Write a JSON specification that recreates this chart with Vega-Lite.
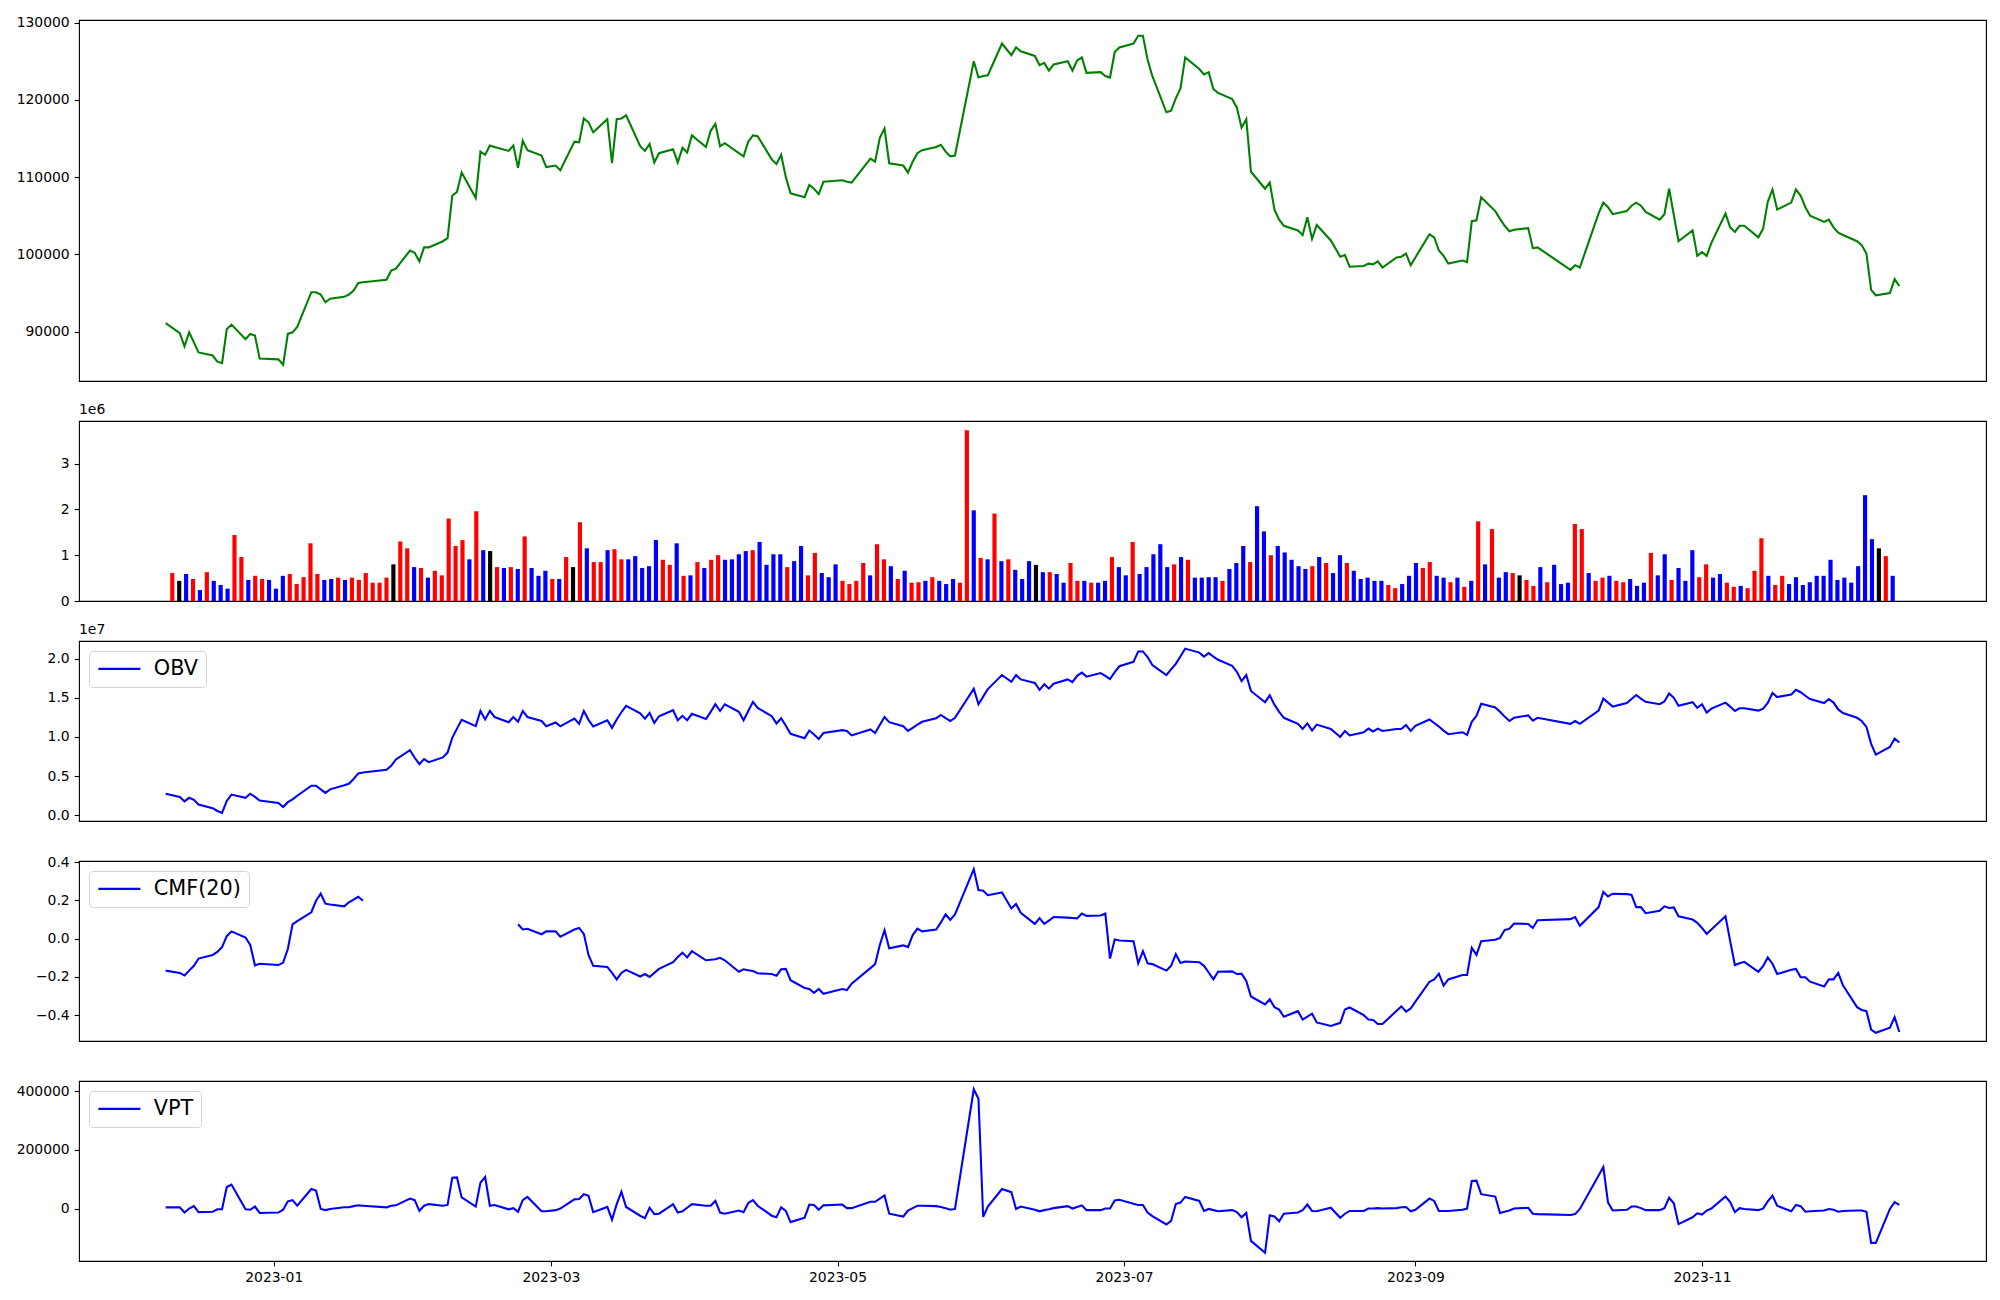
{
"$schema": "https://vega.github.io/schema/vega-lite/v6.json",
"background": "white",
"padding": {"left": 15, "top": 15, "right": 14, "bottom": 8},
"autosize": {"type": "pad"},
"spacing": 40,
"bounds": "flush",
"config": {
 "font": "DejaVu Sans",
 "view": {"stroke": "#000000", "strokeWidth": 1.1},
 "axis": {"domain": false, "grid": false, "title": null, "labelFont": "DejaVu Sans", "labelFontSize": 13.9, "labelColor": "#000000", "tickColor": "#000000", "tickSize": 4.9, "tickWidth": 1.1, "labelPadding": 4.9, "labelFlush": false, "labelOverlap": false, "labelBound": false},
 "legend": {"orient": "top-left", "offset": 10, "padding": 7.5, "cornerRadius": 4, "strokeColor": "#d4d4d4", "fillColor": "#ffffff", "symbolType": "M-3,0H3", "symbolStrokeWidth": 2.08, "symbolSize": 196, "symbolOffset": 12.5, "labelFont": "DejaVu Sans", "labelFontSize": 20.8, "labelColor": "#000000", "labelOffset": 24},
 "title": {"font": "DejaVu Sans", "fontSize": 13.9, "fontWeight": "normal", "color": "#000000", "anchor": "start", "frame": "group", "offset": 4}
},
"resolve": {"scale": {"x": "independent", "y": "independent", "color": "independent"}, "legend": {"color": "independent"}},
"data": {"values": [
{"d":"2022-12-09","c":91100,"v":610000,"k":"up","obv":2760000,"cmf":-0.167,"vpt":4000},
{"d":"2022-12-12","c":89800,"v":440000,"k":"flat","obv":2350000,"cmf":-0.179,"vpt":4000},
{"d":"2022-12-13","c":88100,"v":590000,"k":"down","obv":1790000,"cmf":-0.192,"vpt":-13600},
{"d":"2022-12-14","c":89900,"v":480000,"k":"up","obv":2240000,"cmf":-0.167,"vpt":0},
{"d":"2022-12-15","c":88600,"v":240000,"k":"down","obv":1990000,"cmf":-0.142,"vpt":8200},
{"d":"2022-12-16","c":87300,"v":630000,"k":"up","obv":1380000,"cmf":-0.104,"vpt":-12200},
{"d":"2022-12-19","c":86900,"v":440000,"k":"down","obv":920000,"cmf":-0.085,"vpt":-10900},
{"d":"2022-12-20","c":86100,"v":350000,"k":"down","obv":560000,"cmf":-0.069,"vpt":-2700},
{"d":"2022-12-21","c":85900,"v":270000,"k":"down","obv":310000,"cmf":-0.044,"vpt":-2700},
{"d":"2022-12-22","c":90300,"v":1440000,"k":"up","obv":1840000,"cmf":0.013,"vpt":73500},
{"d":"2022-12-23","c":90900,"v":960000,"k":"up","obv":2650000,"cmf":0.038,"vpt":81600},
{"d":"2022-12-26","c":89000,"v":460000,"k":"down","obv":2240000,"cmf":0.006,"vpt":-2700},
{"d":"2022-12-27","c":89700,"v":550000,"k":"up","obv":2760000,"cmf":-0.033,"vpt":-4100},
{"d":"2022-12-28","c":89500,"v":480000,"k":"up","obv":2350000,"cmf":-0.140,"vpt":6800},
{"d":"2022-12-29","c":86500,"v":460000,"k":"down","obv":1890000,"cmf":-0.131,"vpt":-15000},
{"d":"2023-01-02","c":86400,"v":270000,"k":"down","obv":1580000,"cmf":-0.138,"vpt":-13600},
{"d":"2023-01-03","c":85700,"v":550000,"k":"down","obv":1070000,"cmf":-0.125,"vpt":-4100},
{"d":"2023-01-04","c":89700,"v":590000,"k":"up","obv":1680000,"cmf":-0.054,"vpt":24500},
{"d":"2023-01-05","c":89900,"v":370000,"k":"up","obv":2040000,"cmf":0.075,"vpt":28600},
{"d":"2023-01-06","c":90600,"v":520000,"k":"up","obv":2500000,"cmf":0.092,"vpt":9500},
{"d":"2023-01-09","c":95100,"v":1260000,"k":"up","obv":3780000,"cmf":0.138,"vpt":66700},
{"d":"2023-01-10","c":95100,"v":590000,"k":"up","obv":3780000,"cmf":0.198,"vpt":61200},
{"d":"2023-01-11","c":94800,"v":460000,"k":"down","obv":3320000,"cmf":0.235,"vpt":-1400},
{"d":"2023-01-12","c":93800,"v":480000,"k":"down","obv":2860000,"cmf":0.183,"vpt":-5400},
{"d":"2023-01-13","c":94250,"v":510000,"k":"up","obv":3320000,"cmf":0.179,"vpt":-1400},
{"d":"2023-01-16","c":94500,"v":460000,"k":"down","obv":3830000,"cmf":0.169,"vpt":4100},
{"d":"2023-01-17","c":94800,"v":510000,"k":"up","obv":4030000,"cmf":0.190,"vpt":4100},
{"d":"2023-01-18","c":95300,"v":460000,"k":"up","obv":4640000,"cmf":0.204,"vpt":8200},
{"d":"2023-01-19","c":96300,"v":610000,"k":"up","obv":5360000,"cmf":0.219,"vpt":10900},
{"d":"2023-01-20","c":96400,"v":400000,"k":"up","obv":5460000,"cmf":0.198,"vpt":9500},
{"d":"2023-01-25","c":96700,"v":400000,"k":"up","obv":5820000,"cmf":null,"vpt":4100},
{"d":"2023-01-26","c":97900,"v":510000,"k":"up","obv":6330000,"cmf":null,"vpt":9500},
{"d":"2023-01-27","c":98150,"v":800000,"k":"flat","obv":7140000,"cmf":null,"vpt":10900},
{"d":"2023-01-30","c":100500,"v":1300000,"k":"up","obv":8320000,"cmf":null,"vpt":34000},
{"d":"2023-01-31","c":100200,"v":1150000,"k":"up","obv":7350000,"cmf":null,"vpt":28600},
{"d":"2023-02-01","c":99100,"v":740000,"k":"down","obv":6530000,"cmf":null,"vpt":-8200},
{"d":"2023-02-02","c":100900,"v":720000,"k":"up","obv":7190000,"cmf":null,"vpt":9500},
{"d":"2023-02-03","c":100900,"v":510000,"k":"down","obv":6790000,"cmf":null,"vpt":15000},
{"d":"2023-02-06","c":101700,"v":660000,"k":"up","obv":7400000,"cmf":null,"vpt":9500},
{"d":"2023-02-07","c":102100,"v":560000,"k":"up","obv":8010000,"cmf":null,"vpt":12200},
{"d":"2023-02-08","c":107600,"v":1800000,"k":"up","obv":9900000,"cmf":null,"vpt":104800},
{"d":"2023-02-09","c":108100,"v":1200000,"k":"up","obv":11070000,"cmf":null,"vpt":106100},
{"d":"2023-02-10","c":110600,"v":1330000,"k":"up","obv":12190000,"cmf":null,"vpt":38100},
{"d":"2023-02-13","c":107300,"v":910000,"k":"down","obv":11380000,"cmf":null,"vpt":6800},
{"d":"2023-02-14","c":113300,"v":1960000,"k":"up","obv":13320000,"cmf":null,"vpt":88400},
{"d":"2023-02-15","c":112900,"v":1110000,"k":"down","obv":12240000,"cmf":null,"vpt":107500},
{"d":"2023-02-16","c":114100,"v":1090000,"k":"flat","obv":13320000,"cmf":null,"vpt":9500},
{"d":"2023-02-17","c":113900,"v":740000,"k":"up","obv":12550000,"cmf":null,"vpt":12200},
{"d":"2023-02-20","c":113400,"v":720000,"k":"down","obv":11890000,"cmf":null,"vpt":-2700},
{"d":"2023-02-21","c":114100,"v":740000,"k":"up","obv":12550000,"cmf":null,"vpt":1400},
{"d":"2023-02-22","c":111200,"v":700000,"k":"down","obv":11940000,"cmf":0.075,"vpt":-10900},
{"d":"2023-02-23","c":114700,"v":1410000,"k":"up","obv":13320000,"cmf":0.048,"vpt":28600},
{"d":"2023-02-24","c":113500,"v":720000,"k":"down","obv":12550000,"cmf":0.052,"vpt":39500},
{"d":"2023-02-27","c":112800,"v":550000,"k":"down","obv":12040000,"cmf":0.023,"vpt":-9500},
{"d":"2023-02-28","c":111300,"v":660000,"k":"down","obv":11380000,"cmf":0.038,"vpt":-9500},
{"d":"2023-03-02","c":111500,"v":480000,"k":"up","obv":11860000,"cmf":0.038,"vpt":-5500},
{"d":"2023-03-03","c":110900,"v":480000,"k":"down","obv":11360000,"cmf":0.010,"vpt":0},
{"d":"2023-03-06","c":114600,"v":960000,"k":"up","obv":12350000,"cmf":0.048,"vpt":31300},
{"d":"2023-03-07","c":114500,"v":740000,"k":"flat","obv":11680000,"cmf":0.056,"vpt":32700},
{"d":"2023-03-08","c":117600,"v":1720000,"k":"up","obv":13320000,"cmf":0.025,"vpt":49000},
{"d":"2023-03-09","c":117100,"v":1150000,"k":"down","obv":12190000,"cmf":-0.085,"vpt":43500},
{"d":"2023-03-10","c":115800,"v":850000,"k":"up","obv":11330000,"cmf":-0.142,"vpt":-12200},
{"d":"2023-03-13","c":117500,"v":850000,"k":"up","obv":12140000,"cmf":-0.148,"vpt":5400},
{"d":"2023-03-14","c":111800,"v":1110000,"k":"down","obv":11170000,"cmf":-0.179,"vpt":-38100},
{"d":"2023-03-15","c":117500,"v":1130000,"k":"up","obv":12240000,"cmf":-0.213,"vpt":15000},
{"d":"2023-03-16","c":117600,"v":910000,"k":"up","obv":13160000,"cmf":-0.179,"vpt":57100},
{"d":"2023-03-17","c":118000,"v":910000,"k":"down","obv":13980000,"cmf":-0.163,"vpt":5400},
{"d":"2023-03-20","c":114000,"v":980000,"k":"down","obv":13010000,"cmf":-0.198,"vpt":-24500},
{"d":"2023-03-21","c":113400,"v":720000,"k":"down","obv":12350000,"cmf":-0.185,"vpt":-32700},
{"d":"2023-03-22","c":114300,"v":760000,"k":"down","obv":13060000,"cmf":-0.200,"vpt":2700},
{"d":"2023-03-23","c":111900,"v":1330000,"k":"down","obv":11790000,"cmf":-0.179,"vpt":-19000},
{"d":"2023-03-24","c":113100,"v":900000,"k":"up","obv":12650000,"cmf":-0.158,"vpt":-17700},
{"d":"2023-03-27","c":113600,"v":790000,"k":"up","obv":13420000,"cmf":-0.123,"vpt":15000},
{"d":"2023-03-28","c":111900,"v":1260000,"k":"down","obv":12140000,"cmf":-0.096,"vpt":-13600},
{"d":"2023-03-29","c":113800,"v":550000,"k":"up","obv":12700000,"cmf":-0.073,"vpt":-9500},
{"d":"2023-03-30","c":113200,"v":560000,"k":"down","obv":12140000,"cmf":-0.098,"vpt":2700},
{"d":"2023-03-31","c":115400,"v":850000,"k":"up","obv":12960000,"cmf":-0.065,"vpt":15000},
{"d":"2023-04-03","c":113900,"v":720000,"k":"down","obv":12300000,"cmf":-0.113,"vpt":9500},
{"d":"2023-04-04","c":116000,"v":900000,"k":"up","obv":13210000,"cmf":-0.110,"vpt":9500},
{"d":"2023-04-05","c":116900,"v":1000000,"k":"up","obv":14180000,"cmf":-0.108,"vpt":25900},
{"d":"2023-04-06","c":114000,"v":900000,"k":"down","obv":13320000,"cmf":-0.100,"vpt":-13600},
{"d":"2023-04-07","c":114400,"v":910000,"k":"down","obv":14180000,"cmf":-0.113,"vpt":-17700},
{"d":"2023-04-10","c":113100,"v":1020000,"k":"down","obv":13210000,"cmf":-0.173,"vpt":-6800},
{"d":"2023-04-11","c":112700,"v":1090000,"k":"down","obv":12140000,"cmf":-0.160,"vpt":-12200},
{"d":"2023-04-12","c":114600,"v":1110000,"k":"up","obv":13320000,"cmf":-0.165,"vpt":19000},
{"d":"2023-04-13","c":115400,"v":1290000,"k":"down","obv":14490000,"cmf":-0.169,"vpt":28600},
{"d":"2023-04-14","c":115300,"v":790000,"k":"down","obv":13720000,"cmf":-0.181,"vpt":9500},
{"d":"2023-04-17","c":112300,"v":1020000,"k":"down","obv":12650000,"cmf":-0.185,"vpt":-24500},
{"d":"2023-04-18","c":111700,"v":1020000,"k":"down","obv":11730000,"cmf":-0.194,"vpt":-29900},
{"d":"2023-04-19","c":112900,"v":740000,"k":"up","obv":12400000,"cmf":-0.160,"vpt":4100},
{"d":"2023-04-20","c":110000,"v":870000,"k":"down","obv":11430000,"cmf":-0.158,"vpt":-8200},
{"d":"2023-04-21","c":107900,"v":1200000,"k":"down","obv":10410000,"cmf":-0.217,"vpt":-46300},
{"d":"2023-04-24","c":107400,"v":560000,"k":"up","obv":9850000,"cmf":-0.258,"vpt":-31300},
{"d":"2023-04-25","c":109000,"v":1050000,"k":"up","obv":10820000,"cmf":-0.263,"vpt":13600},
{"d":"2023-04-26","c":108500,"v":610000,"k":"down","obv":10310000,"cmf":-0.283,"vpt":12200},
{"d":"2023-04-27","c":107800,"v":520000,"k":"down","obv":9740000,"cmf":-0.263,"vpt":-4100},
{"d":"2023-04-28","c":109400,"v":800000,"k":"down","obv":10510000,"cmf":-0.288,"vpt":10900},
{"d":"2023-05-02","c":109600,"v":440000,"k":"up","obv":10870000,"cmf":-0.263,"vpt":13600},
{"d":"2023-05-03","c":109400,"v":370000,"k":"up","obv":10770000,"cmf":-0.269,"vpt":1400},
{"d":"2023-05-04","c":109300,"v":440000,"k":"up","obv":10200000,"cmf":-0.235,"vpt":1400},
{"d":"2023-05-08","c":112400,"v":830000,"k":"up","obv":10970000,"cmf":-0.154,"vpt":23100},
{"d":"2023-05-09","c":112000,"v":560000,"k":"down","obv":10510000,"cmf":-0.133,"vpt":23100},
{"d":"2023-05-10","c":115100,"v":1240000,"k":"up","obv":11530000,"cmf":-0.033,"vpt":34000},
{"d":"2023-05-11","c":116300,"v":910000,"k":"up","obv":12550000,"cmf":0.044,"vpt":44900},
{"d":"2023-05-12","c":111800,"v":760000,"k":"down","obv":11890000,"cmf":-0.050,"vpt":-17700},
{"d":"2023-05-15","c":111500,"v":480000,"k":"up","obv":11380000,"cmf":-0.035,"vpt":-27200},
{"d":"2023-05-16","c":110600,"v":660000,"k":"down","obv":10770000,"cmf":-0.044,"vpt":-6800},
{"d":"2023-05-17","c":112000,"v":400000,"k":"up","obv":11170000,"cmf":0.019,"vpt":1400},
{"d":"2023-05-18","c":113100,"v":410000,"k":"up","obv":11580000,"cmf":0.052,"vpt":9500},
{"d":"2023-05-19","c":113500,"v":440000,"k":"down","obv":11940000,"cmf":0.038,"vpt":9500},
{"d":"2023-05-22","c":113900,"v":520000,"k":"up","obv":12400000,"cmf":0.048,"vpt":8200},
{"d":"2023-05-23","c":114200,"v":440000,"k":"down","obv":12810000,"cmf":0.085,"vpt":5400},
{"d":"2023-05-24","c":113300,"v":370000,"k":"down","obv":12400000,"cmf":0.127,"vpt":1400},
{"d":"2023-05-25","c":112700,"v":480000,"k":"down","obv":12040000,"cmf":0.098,"vpt":-4100},
{"d":"2023-05-26","c":112800,"v":400000,"k":"up","obv":12450000,"cmf":0.127,"vpt":-1400},
{"d":"2023-05-30","c":125000,"v":3730000,"k":"up","obv":16170000,"cmf":0.363,"vpt":406800},
{"d":"2023-05-31","c":122900,"v":1980000,"k":"down","obv":14180000,"cmf":0.254,"vpt":374100},
{"d":"2023-06-01","c":123100,"v":940000,"k":"up","obv":15150000,"cmf":0.250,"vpt":-28600},
{"d":"2023-06-02","c":123200,"v":910000,"k":"down","obv":16120000,"cmf":0.227,"vpt":6800},
{"d":"2023-06-05","c":127300,"v":1910000,"k":"up","obv":17910000,"cmf":0.242,"vpt":66700},
{"d":"2023-06-07","c":125800,"v":870000,"k":"down","obv":17040000,"cmf":0.158,"vpt":55800},
{"d":"2023-06-08","c":126800,"v":910000,"k":"up","obv":17910000,"cmf":0.181,"vpt":-1400},
{"d":"2023-06-09","c":126300,"v":680000,"k":"down","obv":17350000,"cmf":0.135,"vpt":6800},
{"d":"2023-06-12","c":125700,"v":480000,"k":"down","obv":16890000,"cmf":0.077,"vpt":-4100},
{"d":"2023-06-13","c":124500,"v":870000,"k":"down","obv":16020000,"cmf":0.107,"vpt":-9500},
{"d":"2023-06-14","c":124800,"v":790000,"k":"flat","obv":16730000,"cmf":0.077,"vpt":-5400},
{"d":"2023-06-15","c":123800,"v":630000,"k":"down","obv":16170000,"cmf":0.094,"vpt":-2700},
{"d":"2023-06-16","c":124600,"v":630000,"k":"up","obv":16790000,"cmf":0.113,"vpt":1400},
{"d":"2023-06-19","c":125000,"v":590000,"k":"down","obv":17350000,"cmf":0.110,"vpt":8200},
{"d":"2023-06-20","c":123800,"v":400000,"k":"down","obv":16990000,"cmf":0.108,"vpt":0},
{"d":"2023-06-21","c":125100,"v":830000,"k":"up","obv":17810000,"cmf":0.106,"vpt":5400},
{"d":"2023-06-22","c":125500,"v":440000,"k":"up","obv":18210000,"cmf":0.131,"vpt":10900},
{"d":"2023-06-23","c":123500,"v":440000,"k":"down","obv":17700000,"cmf":0.119,"vpt":-5400},
{"d":"2023-06-26","c":123600,"v":400000,"k":"up","obv":18160000,"cmf":0.121,"vpt":-5400},
{"d":"2023-06-27","c":123100,"v":400000,"k":"down","obv":17810000,"cmf":0.131,"vpt":0},
{"d":"2023-06-28","c":122900,"v":440000,"k":"down","obv":17400000,"cmf":-0.104,"vpt":0},
{"d":"2023-06-29","c":126200,"v":960000,"k":"up","obv":18270000,"cmf":-0.004,"vpt":27200},
{"d":"2023-06-30","c":126800,"v":740000,"k":"down","obv":19030000,"cmf":-0.010,"vpt":29900},
{"d":"2023-07-03","c":127300,"v":560000,"k":"down","obv":19590000,"cmf":-0.013,"vpt":16300},
{"d":"2023-07-04","c":128300,"v":1290000,"k":"up","obv":20920000,"cmf":-0.129,"vpt":12200},
{"d":"2023-07-05","c":128300,"v":590000,"k":"down","obv":20920000,"cmf":-0.065,"vpt":12200},
{"d":"2023-07-06","c":125200,"v":740000,"k":"down","obv":20200000,"cmf":-0.129,"vpt":-13600},
{"d":"2023-07-07","c":123100,"v":1020000,"k":"down","obv":19180000,"cmf":-0.133,"vpt":-25800},
{"d":"2023-07-10","c":118400,"v":1240000,"k":"down","obv":17910000,"cmf":-0.167,"vpt":-54400},
{"d":"2023-07-11","c":118600,"v":740000,"k":"down","obv":18620000,"cmf":-0.142,"vpt":-42200},
{"d":"2023-07-12","c":120200,"v":800000,"k":"up","obv":19340000,"cmf":-0.081,"vpt":15000},
{"d":"2023-07-13","c":121500,"v":960000,"k":"down","obv":20310000,"cmf":-0.127,"vpt":20400},
{"d":"2023-07-14","c":125500,"v":900000,"k":"up","obv":21280000,"cmf":-0.119,"vpt":39500},
{"d":"2023-07-17","c":124000,"v":510000,"k":"down","obv":20770000,"cmf":-0.123,"vpt":25900},
{"d":"2023-07-18","c":123300,"v":510000,"k":"down","obv":20260000,"cmf":-0.142,"vpt":-8200},
{"d":"2023-07-19","c":123600,"v":520000,"k":"down","obv":20710000,"cmf":-0.177,"vpt":-1400},
{"d":"2023-07-20","c":121400,"v":520000,"k":"down","obv":20260000,"cmf":-0.213,"vpt":-5400},
{"d":"2023-07-21","c":120900,"v":440000,"k":"up","obv":19850000,"cmf":-0.173,"vpt":-9500},
{"d":"2023-07-24","c":120100,"v":700000,"k":"down","obv":19080000,"cmf":-0.171,"vpt":-5400},
{"d":"2023-07-25","c":119000,"v":830000,"k":"down","obv":18320000,"cmf":-0.185,"vpt":-12200},
{"d":"2023-07-26","c":116400,"v":1200000,"k":"down","obv":17140000,"cmf":-0.183,"vpt":-29900},
{"d":"2023-07-27","c":117500,"v":850000,"k":"up","obv":17910000,"cmf":-0.221,"vpt":-15000},
{"d":"2023-07-28","c":110700,"v":2070000,"k":"down","obv":15870000,"cmf":-0.302,"vpt":-110200},
{"d":"2023-07-31","c":108500,"v":1520000,"k":"down","obv":14440000,"cmf":-0.344,"vpt":-151000},
{"d":"2023-08-01","c":109300,"v":1000000,"k":"up","obv":15310000,"cmf":-0.317,"vpt":-23100},
{"d":"2023-08-02","c":105800,"v":1200000,"k":"down","obv":14130000,"cmf":-0.358,"vpt":-27200},
{"d":"2023-08-03","c":104500,"v":1060000,"k":"down","obv":13210000,"cmf":-0.371,"vpt":-43500},
{"d":"2023-08-04","c":103700,"v":900000,"k":"down","obv":12450000,"cmf":-0.408,"vpt":-17700},
{"d":"2023-08-07","c":103100,"v":760000,"k":"down","obv":11680000,"cmf":-0.379,"vpt":-13600},
{"d":"2023-08-08","c":102500,"v":700000,"k":"down","obv":11020000,"cmf":-0.423,"vpt":-5400},
{"d":"2023-08-09","c":104800,"v":760000,"k":"up","obv":11730000,"cmf":-0.408,"vpt":13600},
{"d":"2023-08-10","c":102000,"v":960000,"k":"down","obv":10820000,"cmf":-0.392,"vpt":-8200},
{"d":"2023-08-11","c":103800,"v":830000,"k":"up","obv":11580000,"cmf":-0.438,"vpt":-9500},
{"d":"2023-08-14","c":101800,"v":610000,"k":"down","obv":11020000,"cmf":-0.456,"vpt":2700},
{"d":"2023-08-16","c":99700,"v":1000000,"k":"down","obv":10000000,"cmf":-0.440,"vpt":-31300},
{"d":"2023-08-17","c":99900,"v":830000,"k":"up","obv":10770000,"cmf":-0.371,"vpt":-17700},
{"d":"2023-08-18","c":98400,"v":660000,"k":"down","obv":10200000,"cmf":-0.360,"vpt":-8200},
{"d":"2023-08-21","c":98500,"v":480000,"k":"down","obv":10610000,"cmf":-0.400,"vpt":-8200},
{"d":"2023-08-22","c":98800,"v":510000,"k":"down","obv":11070000,"cmf":-0.423,"vpt":0},
{"d":"2023-08-23","c":98700,"v":440000,"k":"down","obv":10710000,"cmf":-0.425,"vpt":0},
{"d":"2023-08-24","c":99100,"v":440000,"k":"down","obv":11070000,"cmf":-0.446,"vpt":1400},
{"d":"2023-08-25","c":98300,"v":350000,"k":"up","obv":10770000,"cmf":-0.446,"vpt":0},
{"d":"2023-08-28","c":99600,"v":280000,"k":"up","obv":11020000,"cmf":-0.377,"vpt":1400},
{"d":"2023-08-29","c":99700,"v":370000,"k":"down","obv":11020000,"cmf":-0.354,"vpt":4100},
{"d":"2023-08-30","c":100100,"v":550000,"k":"down","obv":11530000,"cmf":-0.381,"vpt":5400},
{"d":"2023-08-31","c":98600,"v":830000,"k":"down","obv":10770000,"cmf":-0.365,"vpt":-9500},
{"d":"2023-09-01","c":99600,"v":720000,"k":"up","obv":11430000,"cmf":-0.329,"vpt":-4100},
{"d":"2023-09-04","c":102600,"v":850000,"k":"up","obv":12240000,"cmf":-0.225,"vpt":34000},
{"d":"2023-09-05","c":102200,"v":550000,"k":"down","obv":11790000,"cmf":-0.213,"vpt":25900},
{"d":"2023-09-06","c":100500,"v":510000,"k":"down","obv":11330000,"cmf":-0.183,"vpt":-8200},
{"d":"2023-09-07","c":99800,"v":410000,"k":"up","obv":10820000,"cmf":-0.246,"vpt":-8200},
{"d":"2023-09-08","c":98800,"v":510000,"k":"down","obv":10360000,"cmf":-0.213,"vpt":-8200},
{"d":"2023-09-11","c":99200,"v":310000,"k":"up","obv":10610000,"cmf":-0.190,"vpt":-4100},
{"d":"2023-09-12","c":99000,"v":440000,"k":"down","obv":10260000,"cmf":-0.190,"vpt":0},
{"d":"2023-09-13","c":104300,"v":1740000,"k":"up","obv":11940000,"cmf":-0.048,"vpt":93900},
{"d":"2023-09-14","c":104400,"v":800000,"k":"down","obv":12700000,"cmf":-0.085,"vpt":95200},
{"d":"2023-09-15","c":107400,"v":1570000,"k":"up","obv":14230000,"cmf":-0.013,"vpt":49000},
{"d":"2023-09-18","c":105600,"v":510000,"k":"down","obv":13780000,"cmf":-0.006,"vpt":40800},
{"d":"2023-09-19","c":104600,"v":630000,"k":"down","obv":13210000,"cmf":0.004,"vpt":-15000},
{"d":"2023-09-20","c":103700,"v":610000,"k":"up","obv":12600000,"cmf":0.045,"vpt":-10900},
{"d":"2023-09-21","c":103000,"v":560000,"k":"flat","obv":12040000,"cmf":0.052,"vpt":-6800},
{"d":"2023-09-22","c":103200,"v":460000,"k":"up","obv":12450000,"cmf":0.079,"vpt":0},
{"d":"2023-09-25","c":103400,"v":330000,"k":"up","obv":12760000,"cmf":0.077,"vpt":2700},
{"d":"2023-09-26","c":100800,"v":740000,"k":"down","obv":12090000,"cmf":0.056,"vpt":-17700},
{"d":"2023-09-27","c":100900,"v":410000,"k":"up","obv":12450000,"cmf":0.096,"vpt":-19000},
{"d":"2023-10-04","c":98000,"v":790000,"k":"down","obv":11680000,"cmf":0.102,"vpt":-21800},
{"d":"2023-10-05","c":98600,"v":370000,"k":"down","obv":12040000,"cmf":0.113,"vpt":-19000},
{"d":"2023-10-06","c":98300,"v":400000,"k":"down","obv":11680000,"cmf":0.067,"vpt":-1400},
{"d":"2023-10-10","c":105300,"v":1680000,"k":"up","obv":13370000,"cmf":0.165,"vpt":112900},
{"d":"2023-10-11","c":106700,"v":1570000,"k":"up","obv":14900000,"cmf":0.244,"vpt":141500},
{"d":"2023-10-12","c":106100,"v":610000,"k":"down","obv":14390000,"cmf":0.221,"vpt":20400},
{"d":"2023-10-13","c":105200,"v":440000,"k":"up","obv":13880000,"cmf":0.235,"vpt":-6800},
{"d":"2023-10-16","c":105600,"v":510000,"k":"up","obv":14340000,"cmf":0.233,"vpt":-4100},
{"d":"2023-10-17","c":106300,"v":550000,"k":"down","obv":14850000,"cmf":0.229,"vpt":6800},
{"d":"2023-10-18","c":106700,"v":440000,"k":"up","obv":15360000,"cmf":0.165,"vpt":6800},
{"d":"2023-10-19","c":106300,"v":410000,"k":"up","obv":14900000,"cmf":0.165,"vpt":1400},
{"d":"2023-10-20","c":105500,"v":480000,"k":"down","obv":14490000,"cmf":0.133,"vpt":-5400},
{"d":"2023-10-23","c":104500,"v":330000,"k":"down","obv":14180000,"cmf":0.146,"vpt":-5400},
{"d":"2023-10-24","c":105200,"v":400000,"k":"down","obv":14540000,"cmf":0.169,"vpt":1400},
{"d":"2023-10-25","c":108500,"v":1050000,"k":"up","obv":15560000,"cmf":0.160,"vpt":36700},
{"d":"2023-10-26","c":105100,"v":560000,"k":"down","obv":15000000,"cmf":0.163,"vpt":17700},
{"d":"2023-10-27","c":101700,"v":1020000,"k":"down","obv":13980000,"cmf":0.117,"vpt":-53100},
{"d":"2023-10-30","c":103100,"v":460000,"k":"up","obv":14440000,"cmf":0.100,"vpt":-29900},
{"d":"2023-10-31","c":99800,"v":720000,"k":"down","obv":13720000,"cmf":0.083,"vpt":-16300},
{"d":"2023-11-01","c":100300,"v":440000,"k":"down","obv":14180000,"cmf":0.056,"vpt":-20400},
{"d":"2023-11-02","c":99800,"v":1110000,"k":"down","obv":13110000,"cmf":0.025,"vpt":-6800},
{"d":"2023-11-03","c":101500,"v":520000,"k":"up","obv":13620000,"cmf":0.048,"vpt":0},
{"d":"2023-11-06","c":105300,"v":800000,"k":"up","obv":14390000,"cmf":0.117,"vpt":40800},
{"d":"2023-11-07","c":103500,"v":510000,"k":"down","obv":13880000,"cmf":-0.013,"vpt":21800},
{"d":"2023-11-08","c":102900,"v":590000,"k":"down","obv":13320000,"cmf":-0.138,"vpt":-12200},
{"d":"2023-11-09","c":103700,"v":400000,"k":"up","obv":13670000,"cmf":-0.129,"vpt":1400},
{"d":"2023-11-10","c":103700,"v":310000,"k":"up","obv":13670000,"cmf":-0.121,"vpt":-1400},
{"d":"2023-11-13","c":102200,"v":330000,"k":"down","obv":13370000,"cmf":-0.173,"vpt":-5400},
{"d":"2023-11-14","c":103300,"v":280000,"k":"up","obv":13620000,"cmf":-0.144,"vpt":0},
{"d":"2023-11-15","c":106800,"v":660000,"k":"up","obv":14340000,"cmf":-0.098,"vpt":24500},
{"d":"2023-11-16","c":108400,"v":1370000,"k":"up","obv":15610000,"cmf":-0.131,"vpt":43500},
{"d":"2023-11-17","c":105800,"v":550000,"k":"down","obv":15100000,"cmf":-0.185,"vpt":9500},
{"d":"2023-11-20","c":106700,"v":350000,"k":"up","obv":15410000,"cmf":-0.163,"vpt":-9500},
{"d":"2023-11-21","c":108400,"v":550000,"k":"up","obv":16020000,"cmf":-0.158,"vpt":12200},
{"d":"2023-11-22","c":107600,"v":370000,"k":"down","obv":15710000,"cmf":-0.202,"vpt":8200},
{"d":"2023-11-23","c":106100,"v":520000,"k":"down","obv":15260000,"cmf":-0.202,"vpt":-10900},
{"d":"2023-11-24","c":105000,"v":350000,"k":"down","obv":14850000,"cmf":-0.225,"vpt":-9500},
{"d":"2023-11-27","c":104200,"v":410000,"k":"down","obv":14340000,"cmf":-0.250,"vpt":-6800},
{"d":"2023-11-28","c":104500,"v":550000,"k":"down","obv":14850000,"cmf":-0.213,"vpt":-1400},
{"d":"2023-11-29","c":103500,"v":550000,"k":"down","obv":14390000,"cmf":-0.213,"vpt":-4100},
{"d":"2023-11-30","c":102800,"v":900000,"k":"down","obv":13520000,"cmf":-0.179,"vpt":-10900},
{"d":"2023-12-01","c":102500,"v":460000,"k":"down","obv":13060000,"cmf":-0.244,"vpt":-8200},
{"d":"2023-12-04","c":101700,"v":510000,"k":"down","obv":12450000,"cmf":-0.358,"vpt":-6800},
{"d":"2023-12-05","c":101200,"v":400000,"k":"down","obv":12040000,"cmf":-0.373,"vpt":-6800},
{"d":"2023-12-06","c":100100,"v":760000,"k":"down","obv":11280000,"cmf":-0.379,"vpt":-10900},
{"d":"2023-12-07","c":95400,"v":2310000,"k":"down","obv":9130000,"cmf":-0.475,"vpt":-117000},
{"d":"2023-12-08","c":94700,"v":1350000,"k":"down","obv":7760000,"cmf":-0.492,"vpt":-117000},
{"d":"2023-12-11","c":95000,"v":1150000,"k":"flat","obv":8720000,"cmf":-0.465,"vpt":-1400},
{"d":"2023-12-12","c":96800,"v":980000,"k":"up","obv":9800000,"cmf":-0.410,"vpt":21800},
{"d":"2023-12-13","c":95900,"v":550000,"k":"down","obv":9290000,"cmf":-0.488,"vpt":12200}
]},
"vconcat": [
 {"width": 1907, "height": 361,
  "mark": {"type": "line", "color": "#008000", "strokeWidth": 2.08},
  "encoding": {
   "x": {"field": "d", "type": "temporal", "scale": {"type": "utc", "domain": [{"year": 2022, "month": 11, "date": 20, "hours": 13, "minutes": 12, "utc": true}, {"year": 2023, "month": 12, "date": 31, "hours": 10, "minutes": 48, "utc": true}]}, "axis": null},
   "y": {"field": "c", "type": "quantitative", "scale": {"domain": [83600, 130350], "zero": false, "nice": false}, "axis": {"values": [90000, 100000, 110000, 120000, 130000], "format": "d"}}
  }},
 {"width": 1907, "height": 180,
  "title": {"text": "1e6"},
  "transform": [{"window": [{"op": "row_number", "as": "n"}], "sort": [{"field": "d"}]}],
  "mark": {"type": "bar", "width": 4.17},
  "encoding": {
   "x": {"field": "n", "type": "quantitative", "scale": {"domain": [-11.78, 262.78], "zero": false, "nice": false}, "axis": null},
   "y": {"field": "v", "type": "quantitative", "scale": {"domain": [0, 3930000], "nice": false}, "axis": {"values": [0, 1000000, 2000000, 3000000], "labelExpr": "format(datum.value / 1000000, 'd')"}},
   "color": {"field": "k", "type": "nominal", "scale": {"domain": ["up", "down", "flat"], "range": ["#ff0000", "#0000ff", "#000000"]}, "legend": null}
  }},
 {"width": 1907, "height": 180,
  "title": {"text": "1e7"},
  "mark": {"type": "line", "strokeWidth": 2.08},
  "encoding": {
   "x": {"field": "d", "type": "temporal", "scale": {"type": "utc", "domain": [{"year": 2022, "month": 11, "date": 20, "hours": 13, "minutes": 12, "utc": true}, {"year": 2023, "month": 12, "date": 31, "hours": 10, "minutes": 48, "utc": true}]}, "axis": null},
   "y": {"field": "obv", "type": "quantitative", "scale": {"domain": [-720000, 22250000], "zero": false, "nice": false}, "axis": {"values": [0, 5000000, 10000000, 15000000, 20000000], "labelExpr": "format(datum.value / 10000000, '.1f')"}},
   "color": {"datum": "OBV", "type": "nominal", "scale": {"range": ["#0000ff"]}, "legend": {"title": null}}
  }},
 {"width": 1907, "height": 180,
  "mark": {"type": "line", "strokeWidth": 2.08, "invalid": "break-paths-filter-domains"},
  "encoding": {
   "x": {"field": "d", "type": "temporal", "scale": {"type": "utc", "domain": [{"year": 2022, "month": 11, "date": 20, "hours": 13, "minutes": 12, "utc": true}, {"year": 2023, "month": 12, "date": 31, "hours": 10, "minutes": 48, "utc": true}]}, "axis": null},
   "y": {"field": "cmf", "type": "quantitative", "scale": {"domain": [-0.535, 0.406], "zero": false, "nice": false}, "axis": {"values": [-0.4, -0.2, 0, 0.2, 0.4], "format": ".1f"}},
   "color": {"datum": "CMF(20)", "type": "nominal", "scale": {"range": ["#0000ff"]}, "legend": {"title": null}}
  }},
 {"width": 1907, "height": 180,
  "mark": {"type": "line", "strokeWidth": 2.08},
  "encoding": {
   "x": {"field": "d", "type": "temporal", "scale": {"type": "utc", "domain": [{"year": 2022, "month": 11, "date": 20, "hours": 13, "minutes": 12, "utc": true}, {"year": 2023, "month": 12, "date": 31, "hours": 10, "minutes": 48, "utc": true}]}, "axis": {"values": [{"year": 2023, "month": 1, "date": 1, "utc": true}, {"year": 2023, "month": 3, "date": 1, "utc": true}, {"year": 2023, "month": 5, "date": 1, "utc": true}, {"year": 2023, "month": 7, "date": 1, "utc": true}, {"year": 2023, "month": 9, "date": 1, "utc": true}, {"year": 2023, "month": 11, "date": 1, "utc": true}], "labelExpr": "utcFormat(datum.value, '%Y-%m')", "labelAngle": 0}},
   "y": {"field": "vpt", "type": "quantitative", "scale": {"domain": [-178900, 434900], "zero": false, "nice": false}, "axis": {"values": [0, 200000, 400000], "format": "d"}},
   "color": {"datum": "VPT", "type": "nominal", "scale": {"range": ["#0000ff"]}, "legend": {"title": null}}
  }}
]
}
